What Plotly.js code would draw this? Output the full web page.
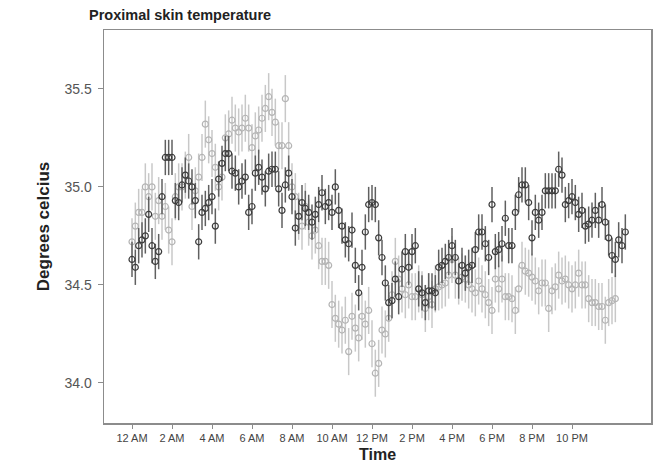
<!DOCTYPE html>
<html>
<head>
<meta charset="utf-8">
<script src="https://cdn.plot.ly/plotly-3.0.1.min.js"></script>
<style>html,body{margin:0;padding:0;background:#fff;}#chart{width:654px;height:469px;}</style>
</head>
<body>
<div id="chart"></div>
<script>
// Sampling: every 10 minutes, expressed in hours since midnight
const stepMinutes = 10;

// Dark series (mean temperature, °C)
const darkValues = [
34.63,34.59,34.70,34.73,34.75,34.86,34.70,34.62,34.67,34.95,
35.15,35.15,35.15,34.93,34.92,35.01,35.06,35.03,35.00,34.93,
34.72,34.87,34.89,34.92,34.95,34.80,35.04,35.12,35.17,35.17,
35.08,35.07,35.00,35.03,35.05,34.87,34.90,35.07,35.10,35.05,
34.99,35.08,35.09,35.09,34.99,34.88,35.01,35.07,34.95,34.79,
34.85,34.92,34.89,34.87,34.82,34.86,34.91,34.97,34.90,34.92,
34.87,35.00,34.88,34.80,34.73,34.71,34.78,34.60,34.46,34.59,
34.77,34.91,34.92,34.91,34.74,34.64,34.51,34.41,34.42,34.53,
34.44,34.58,34.67,34.59,34.67,34.70,34.48,34.46,34.41,34.47,
34.47,34.46,34.59,34.60,34.62,34.64,34.70,34.64,34.52,34.60,
34.56,34.59,34.60,34.68,34.77,34.77,34.71,34.64,34.91,34.67,
34.68,34.71,34.84,34.70,34.70,34.87,34.96,35.01,35.01,34.92,
34.74,34.87,34.83,34.87,34.98,34.98,34.98,34.98,35.09,35.06,
34.91,34.93,34.95,34.92,34.86,34.88,34.80,34.81,34.83,34.88,
34.83,34.91,34.82,34.74,34.65,34.63,34.73,34.70,34.77
];

// Light series (mean temperature, °C)
const lightValues = [
34.72,34.80,34.87,34.87,35.00,34.95,35.00,34.85,34.93,34.85,
34.90,34.78,34.72,34.95,35.00,35.00,35.06,35.15,34.90,34.98,
35.05,35.15,35.32,35.24,35.17,35.10,35.00,35.05,35.25,35.27,
35.34,35.30,35.28,35.30,35.35,35.30,35.20,35.26,35.29,35.35,
35.40,35.46,35.38,35.33,35.21,35.21,35.45,35.21,35.00,34.95,
34.85,34.80,34.90,34.82,34.75,34.78,34.70,34.62,34.62,34.60,
34.40,34.33,34.30,34.27,34.32,34.16,34.34,34.28,34.23,34.34,
34.30,34.37,34.20,34.05,34.10,34.27,34.25,34.33,34.45,34.62,
34.53,34.48,34.45,34.50,34.44,34.44,34.48,34.45,34.38,34.44,
34.40,34.48,34.49,34.50,34.51,34.55,34.63,34.55,34.52,34.54,
34.53,34.50,34.48,34.46,34.52,34.48,34.45,34.41,34.37,34.53,
34.48,34.53,34.44,34.44,34.43,34.37,34.48,34.60,34.57,34.56,
34.54,34.52,34.47,34.51,34.51,34.38,34.47,34.49,34.55,34.52,
34.53,34.50,34.48,34.50,34.56,34.50,34.50,34.43,34.41,34.41,
34.39,34.39,34.32,34.41,34.42,34.43
];

// Error bar half-widths (°C)
const darkError = 0.09;
const lightError = 0.12;

// Tick positions (hours) and labels
const tickHours = [0,2,4,6,8,10,12,14,16,18,20,22];
const tickLabels = ["12 AM","2 AM","4 AM","6 AM","8 AM","10 AM","12 PM","2 PM","4 PM","6 PM","8 PM","10 PM"];
const yTicks = [34.0,34.5,35.0,35.5];

const timesFor = (arr) => arr.map((_, i) => i * stepMinutes / 60);

const lightTrace = {
  type: 'scatter', mode: 'markers',
  x: timesFor(lightValues), y: lightValues,
  marker: {symbol: 'circle-open', size: 6, color: '#b4b4b4', line: {width: 1.2, color: '#b4b4b4'}},
  error_y: {type: 'constant', value: lightError, color: '#c8c8c8', thickness: 1.5, width: 0},
  showlegend: false, hoverinfo: 'x+y'
};
const darkTrace = {
  type: 'scatter', mode: 'markers',
  x: timesFor(darkValues), y: darkValues,
  marker: {symbol: 'circle-open', size: 6, color: '#3c3c3c', line: {width: 1.2, color: '#3c3c3c'}},
  error_y: {type: 'constant', value: darkError, color: '#606060', thickness: 1.5, width: 0},
  showlegend: false, hoverinfo: 'x+y'
};

const layout = {
  width: 654, height: 469,
  paper_bgcolor: '#ffffff', plot_bgcolor: '#ffffff',
  margin: {l: 104, r: 3, t: 30, b: 46},
  font: {family: 'Liberation Sans, Arial, sans-serif', color: '#444'},
  title: {
    text: '<b>Proximal skin temperature</b>',
    font: {size: 14.5, color: '#222', family: 'Liberation Sans, Arial, sans-serif'},
    xref: 'container', yref: 'container', x: 89/654, xanchor: 'left', y: 1 - 15/469, yanchor: 'middle'
  },
  xaxis: {
    range: [-1.4, 25.95],
    tickvals: tickHours, ticktext: tickLabels,
    ticks: 'outside', ticklen: 4, tickcolor: '#8c8c8c', tickwidth: 1,
    tickfont: {size: 11, color: '#444', family: 'Liberation Sans Narrow, Arial Narrow, Liberation Sans, Arial, sans-serif'},
    showgrid: false, zeroline: false,
    showline: true, linecolor: '#8c8c8c', linewidth: 1.5, mirror: true,
    title: {text: '<b>Time</b>', font: {size: 16, color: '#222'}, standoff: 6},
    automargin: false
  },
  yaxis: {
    range: [33.796, 35.80],
    tickvals: yTicks, ticktext: yTicks.map(v => v.toFixed(1)),
    ticks: 'outside', ticklen: 5, tickcolor: '#8c8c8c', tickwidth: 1,
    tickfont: {size: 14, color: '#555'},
    ticklabelstandoff: 3,
    showgrid: false, zeroline: false,
    showline: true, linecolor: '#8c8c8c', linewidth: 1.5, mirror: true,
    title: {text: '<b>Degrees celcius</b>', font: {size: 17, color: '#222'}, standoff: 10},
    automargin: false
  }
};

Plotly.newPlot('chart', [lightTrace, darkTrace], layout, {displayModeBar: false, staticPlot: true});
</script>
</body>
</html>
